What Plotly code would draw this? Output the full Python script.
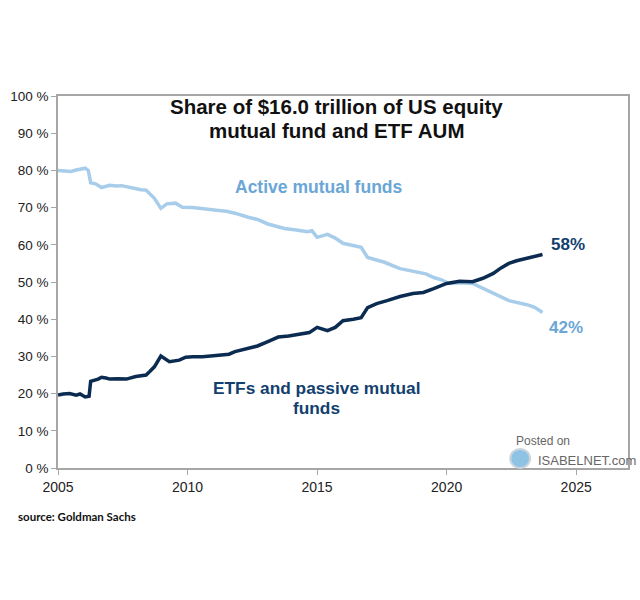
import plotly.graph_objects as go

active_years = [2005.0, 2005.25, 2005.5, 2005.7, 2005.85, 2006.05, 2006.17, 2006.26, 2006.45, 2006.68,
                2007.0, 2007.25, 2007.45, 2007.76, 2008.0, 2008.2, 2008.4, 2008.55, 2008.72, 2008.97,
                2009.2, 2009.54, 2009.8, 2010.2, 2010.55, 2011.2, 2011.5, 2011.83, 2012.34, 2012.7,
                2013.1, 2013.4, 2013.74, 2014.2, 2014.63, 2014.8, 2015.0, 2015.4, 2015.7, 2016.0,
                2016.4, 2016.7, 2016.95, 2017.3, 2017.6, 2018.2, 2018.5, 2018.9, 2019.2, 2019.5,
                2019.8, 2020.1, 2020.5, 2021.0, 2021.4, 2021.8, 2022.1, 2022.4, 2022.7, 2023.1,
                2023.4, 2023.7]
active_vals = [80.0, 79.8, 79.7, 80.1, 80.3, 80.6, 80.0, 76.7, 76.4, 75.4,
               76.0, 75.8, 75.9, 75.4, 75.2, 74.8, 74.7, 73.8, 72.5, 69.8,
               71.0, 71.2, 70.1, 70.0, 69.8, 69.2, 69.0, 68.5, 67.4, 66.8,
               65.6, 65.0, 64.4, 64.0, 63.5, 63.8, 62.0, 62.8, 61.8, 60.4,
               59.8, 59.3, 56.6, 55.8, 55.3, 53.6, 53.2, 52.6, 52.2, 51.2,
               50.6, 49.6, 49.8, 49.6, 48.2, 46.9, 46.0, 45.0, 44.6, 43.9,
               43.2, 41.8]

etf_years = [2005.0, 2005.2, 2005.45, 2005.7, 2005.85, 2006.05, 2006.2, 2006.26, 2006.55, 2006.68,
             2006.85, 2007.0, 2007.3, 2007.64, 2008.0, 2008.2, 2008.4, 2008.55, 2008.72, 2008.97,
             2009.3, 2009.68, 2009.93, 2010.2, 2010.57, 2011.0, 2011.3, 2011.6, 2011.83, 2012.35,
             2012.7, 2013.1, 2013.5, 2013.9, 2014.4, 2014.7, 2015.0, 2015.4, 2015.7, 2016.0,
             2016.4, 2016.7, 2016.95, 2017.3, 2017.7, 2018.2, 2018.7, 2019.1, 2019.5, 2019.8,
             2020.0, 2020.5, 2021.0, 2021.4, 2021.8, 2022.1, 2022.4, 2022.7, 2023.1, 2023.4,
             2023.7]
etf_vals = [19.6, 19.9, 20.0, 19.6, 19.9, 19.1, 19.3, 23.3, 23.9, 24.4,
            24.2, 23.9, 24.0, 23.9, 24.6, 24.8, 25.0, 26.0, 27.2, 30.1,
            28.6, 29.0, 29.8, 29.9, 29.9, 30.2, 30.5, 30.6, 31.3, 32.2,
            32.8, 34.0, 35.2, 35.5, 36.2, 36.4, 37.8, 36.9, 37.8, 39.6,
            40.0, 40.4, 43.1, 44.2, 45.0, 46.1, 46.9, 47.2, 48.2, 49.0,
            49.6, 50.2, 50.1, 51.0, 52.3, 53.8, 55.0, 55.7, 56.3, 56.8,
            57.4]

y_ticks = [0, 10, 20, 30, 40, 50, 60, 70, 80, 90, 100]
y_labels = [f"{v} %" for v in y_ticks]
x_ticks = [2005, 2010, 2015, 2020, 2025]

title_lines = ["Share of $16.0 trillion of US equity", "mutual fund and ETF AUM"]
etf_label_lines = ["ETFs and passive mutual", "funds"]

ACTIVE = "#a8cdea"
ACTIVE_TXT = "#6aa6d6"
ETF = "#0b2c50"
ETF_TXT = "#123f6e"
FONT = "Liberation Sans, Arial, sans-serif"

L, R, T, B = 54, 10, 96, 132
W, H = 640, 600
pw, ph = W - L - R, H - T - B
def px2paper(px, py):
    return (px - L) / pw, (H - B - py) / ph

fig = go.Figure()
fig.add_trace(go.Scatter(x=active_years, y=active_vals, mode="lines",
                         line=dict(color=ACTIVE, width=3.5), showlegend=False))
fig.add_trace(go.Scatter(x=etf_years, y=etf_vals, mode="lines",
                         line=dict(color=ETF, width=3.5), showlegend=False))

ann = []
for txt, py in zip(title_lines, [107, 130]):
    tx, ty = px2paper(335, py)
    ann.append(dict(x=tx, y=ty, xref="paper", yref="paper", showarrow=False,
                    text=f"<b>{txt}</b>", yanchor="middle",
                    font=dict(family=FONT, size=20.5, color="#111111")))
ann.append(dict(x=2015.07, y=75.5, xref="x", yref="y", showarrow=False,
                text="<b>Active mutual funds</b>",
                font=dict(family=FONT, size=17.5, color=ACTIVE_TXT)))
for txt, py in zip(etf_label_lines, [388, 408]):
    tx, ty = px2paper(315, py)
    ann.append(dict(x=tx, y=ty, xref="paper", yref="paper", showarrow=False,
                    text=f"<b>{txt}</b>", yanchor="middle",
                    font=dict(family=FONT, size=17.3, color=ETF_TXT)))
ann.append(dict(x=2024.7, y=60, xref="x", yref="y", showarrow=False,
                text="<b>58%</b>", font=dict(family=FONT, size=17, color=ETF_TXT)))
ann.append(dict(x=2024.6, y=37.9, xref="x", yref="y", showarrow=False,
                text="<b>42%</b>", font=dict(family=FONT, size=17, color=ACTIVE_TXT)))

x_po, y_po = px2paper(515, 441)
ann.append(dict(x=x_po, y=y_po, xref="paper", yref="paper", showarrow=False,
                text="Posted on", font=dict(family=FONT, size=12, color="#666666"),
                xanchor="left", yanchor="middle"))
x_isa, y_isa = px2paper(537, 460)
ann.append(dict(x=x_isa, y=y_isa, xref="paper", yref="paper", showarrow=False,
                text="ISABELNET.com", font=dict(family=FONT, size=13, color="#666666"),
                xanchor="left", yanchor="middle"))
x_src, y_src = px2paper(12, 516)
ann.append(dict(x=x_src, y=y_src, xref="paper", yref="paper", showarrow=False,
                text="<b>source: Goldman Sachs</b>",
                font=dict(family="Lato, sans-serif", size=11.5, color="#111111"),
                xanchor="left", yanchor="middle"))

cx0, cy0 = px2paper(511, 468)
cx1, cy1 = px2paper(531, 449)
fig.add_shape(type="circle", xref="paper", yref="paper", x0=cx0, y0=cy0, x1=cx1, y1=cy1,
              line=dict(color="#c9d4dc", width=2), fillcolor="#8fc3e6", layer="above")

fig.update_layout(
    width=W, height=H,
    margin=dict(l=L, r=R, t=T, b=B),
    paper_bgcolor="white", plot_bgcolor="white",
    annotations=ann,
    xaxis=dict(range=[2005, 2027], tickvals=x_ticks, showgrid=False, zeroline=False,
               showline=True, linecolor="#a6a6a6", linewidth=1.5, mirror=True,
               ticks="outside", ticklen=5, tickcolor="#a6a6a6",
               tickfont=dict(family=FONT, size=14, color="#222222")),
    yaxis=dict(range=[0, 100], tickvals=y_ticks, ticktext=y_labels, showgrid=False, zeroline=False,
               showline=True, linecolor="#a6a6a6", linewidth=1.5, mirror=True,
               ticks="outside", ticklen=5, tickcolor="#a6a6a6",
               tickfont=dict(family=FONT, size=13.5, color="#222222")),
)

fig.write_html("out.html")
